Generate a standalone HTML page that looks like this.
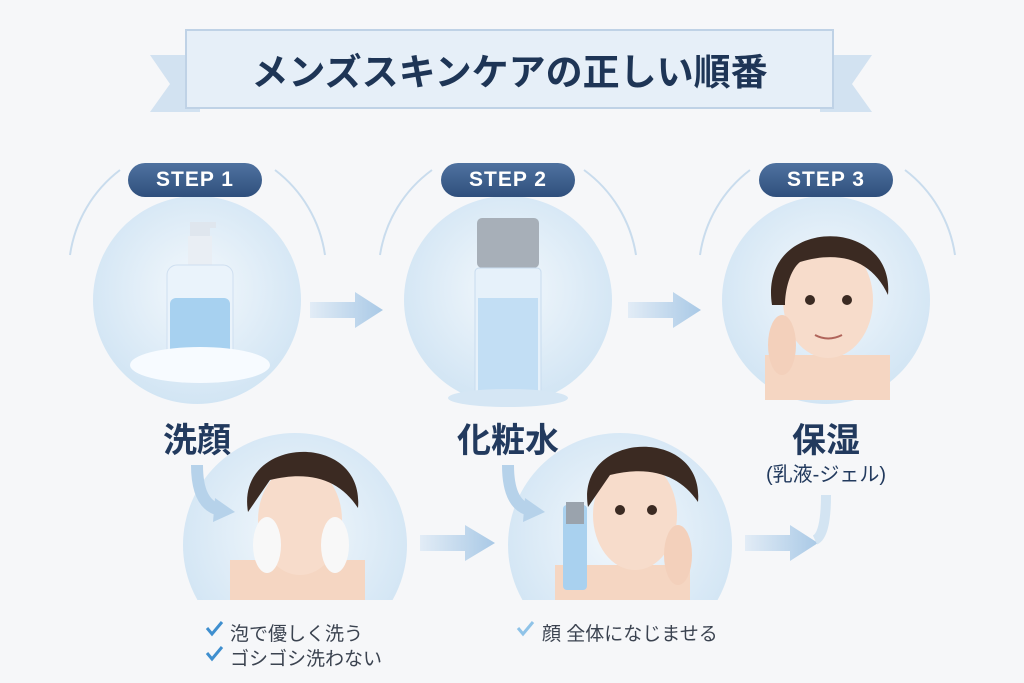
<!DOCTYPE html>
<html><head><meta charset="utf-8"><style>
body{margin:0;width:1024px;height:683px;overflow:hidden;background:#f6f7f9;font-family:"Liberation Sans","Noto Sans CJK JP",sans-serif;position:relative}
.t{position:absolute;white-space:nowrap}
.pill{position:absolute;width:134px;height:34px;border-radius:17px;background:linear-gradient(#4f72a0,#2f4f7c);color:#fff;font-weight:bold;font-size:21px;line-height:34px;text-align:center;letter-spacing:1px}
.lab{position:absolute;font-weight:bold;color:#223a5e;font-size:34px;text-align:center;width:200px}
.sm{position:absolute;font-size:19px;color:#3b4350}
</style></head><body>
<svg width="1024" height="683" style="position:absolute;left:0;top:0">
<defs>
<radialGradient id="c" cx="50%" cy="45%" r="55%"><stop offset="0" stop-color="#f3f8fc"/><stop offset="1" stop-color="#d2e5f4"/></radialGradient>
<linearGradient id="ar" x1="0" x2="1"><stop offset="0" stop-color="#e2ecf6"/><stop offset="1" stop-color="#a9c9e6"/></linearGradient>
</defs>
<polygon points="150,55 200,55 200,112 150,112 170,84" fill="#d2e2f1"/>
<polygon points="820,55 872,55 852,84 872,112 820,112" fill="#d2e2f1"/>
<rect x="186" y="30" width="647" height="78" fill="#e6eff8" stroke="#bfd2e6" stroke-width="2"/>
<path d="M70,255 A130,130 0 0 1 120,170" fill="none" stroke="#c9dced" stroke-width="2"/>
<path d="M275,170 A130,130 0 0 1 325,255" fill="none" stroke="#c9dced" stroke-width="2"/>
<path d="M380,255 A130,130 0 0 1 432,170" fill="none" stroke="#c9dced" stroke-width="2"/>
<path d="M584,170 A130,130 0 0 1 636,255" fill="none" stroke="#c9dced" stroke-width="2"/>
<path d="M700,255 A130,130 0 0 1 750,170" fill="none" stroke="#c9dced" stroke-width="2"/>
<path d="M905,170 A130,130 0 0 1 955,255" fill="none" stroke="#c9dced" stroke-width="2"/>
<circle cx="197" cy="300" r="104" fill="url(#c)"/>
<circle cx="508" cy="300" r="104" fill="url(#c)"/>
<circle cx="826" cy="300" r="104" fill="url(#c)"/>
<clipPath id="k1"><rect x="0" y="0" width="1024" height="600"/></clipPath>
<g clip-path="url(#k1)">
<circle cx="295" cy="545" r="112" fill="url(#c)"/>
<circle cx="620" cy="545" r="112" fill="url(#c)"/>
</g>
<rect x="190" y="222" width="20" height="14" fill="#dfe6ee"/><rect x="200" y="222" width="16" height="6" fill="#dfe6ee"/>
<rect x="188" y="236" width="24" height="30" fill="#e9eef4"/>
<rect x="167" y="265" width="66" height="105" rx="10" fill="#eaf3fb" stroke="#cfdff0"/>
<rect x="170" y="298" width="60" height="70" rx="6" fill="#a7d1f0"/>
<ellipse cx="200" cy="365" rx="70" ry="18" fill="#f7fbff"/>
<rect x="477" y="218" width="62" height="50" rx="5" fill="#a7afb8"/>
<rect x="475" y="268" width="66" height="128" rx="4" fill="#e6f1fa" stroke="#c8dcef"/>
<rect x="478" y="298" width="60" height="95" fill="#c2def4"/>
<ellipse cx="508" cy="398" rx="60" ry="9" fill="#d5e6f4"/>
<rect x="765" y="355" width="125" height="45" fill="#f5d6c2"/>
<ellipse cx="828" cy="300" rx="45" ry="58" fill="#f7dccb"/>
<path d="M772,305 C758,215 895,215 888,295 C872,260 840,250 800,262 C790,270 785,290 785,305Z" fill="#3b2a22"/>
<circle cx="810" cy="300" r="5" fill="#3b2a22"/><circle cx="847" cy="300" r="5" fill="#3b2a22"/>
<path d="M815,335 Q828,342 842,335" stroke="#b0645a" stroke-width="2" fill="none"/>
<ellipse cx="782" cy="345" rx="14" ry="30" fill="#f3d0bb"/>
<rect x="230" y="560" width="135" height="40" fill="#f5d6c2"/>
<ellipse cx="300" cy="520" rx="42" ry="55" fill="#f7dccb"/>
<path d="M248,512 C235,435 365,430 358,508 C340,480 310,470 270,480Z" fill="#3b2a22"/>
<ellipse cx="267" cy="545" rx="14" ry="28" fill="#f8f8f8"/><ellipse cx="335" cy="545" rx="14" ry="28" fill="#f8f8f8"/>
<rect x="555" y="565" width="135" height="35" fill="#f5d6c2"/>
<ellipse cx="635" cy="515" rx="42" ry="55" fill="#f7dccb"/>
<path d="M588,507 C575,430 705,425 698,502 C680,475 650,465 610,475Z" fill="#3b2a22"/>
<circle cx="620" cy="510" r="5" fill="#3b2a22"/><circle cx="652" cy="510" r="5" fill="#3b2a22"/>
<rect x="563" y="505" width="24" height="85" rx="4" fill="#a9d1ef"/><rect x="566" y="502" width="18" height="22" fill="#9aa3ad"/>
<ellipse cx="678" cy="555" rx="14" ry="30" fill="#f3d0bb"/>
<polygon points="310,302 355,302 355,292 383,310 355,328 355,318 310,318" fill="url(#ar)"/>
<polygon points="628,302 673,302 673,292 701,310 673,328 673,318 628,318" fill="url(#ar)"/>
<polygon points="420,535 465,535 465,525 495,543 465,561 465,551 420,551" fill="url(#ar)"/>
<polygon points="745,535 790,535 790,525 818,543 790,561 790,551 745,551" fill="url(#ar)"/>
<path d="M197,465 Q197,505 220,510" stroke="#b6d2ea" stroke-width="12" fill="none"/>
<polygon points="215,498 235,512 213,522" fill="#b6d2ea"/>
<path d="M508,465 Q508,505 530,510" stroke="#b6d2ea" stroke-width="12" fill="none"/>
<polygon points="525,498 545,512 523,522" fill="#b6d2ea"/>
<path d="M826,495 Q826,535 815,540" stroke="#d3e4f2" stroke-width="10" fill="none"/>
<path d="M207,628 l5,6 l10,-12" stroke="#3f8fcf" stroke-width="3" fill="none"/>
<path d="M207,653 l5,6 l10,-12" stroke="#3f8fcf" stroke-width="3" fill="none"/>
<path d="M518,628 l5,6 l10,-12" stroke="#8fc3e8" stroke-width="3" fill="none"/>
</svg>
<div class="t" style="left:186px;top:42px;width:647px;text-align:center;font-size:37px;font-weight:bold;color:#1e3556">メンズスキンケアの正しい順番</div>
<div class="pill" style="left:128px;top:163px">STEP 1</div>
<div class="pill" style="left:441px;top:163px">STEP 2</div>
<div class="pill" style="left:759px;top:163px">STEP 3</div>
<div class="lab" style="left:97px;top:413px">洗顔</div>
<div class="lab" style="left:408px;top:413px">化粧水</div>
<div class="lab" style="left:726px;top:413px">保湿</div>
<div class="t" style="left:726px;top:458px;width:200px;text-align:center;font-size:20px;color:#223a5e">(乳液-ジェル)</div>
<div class="sm" style="left:230px;top:619px">泡で優しく洗う</div>
<div class="sm" style="left:230px;top:644px">ゴシゴシ洗わない</div>
<div class="sm" style="left:542px;top:619px">顔 全体になじませる</div>
</body></html>
